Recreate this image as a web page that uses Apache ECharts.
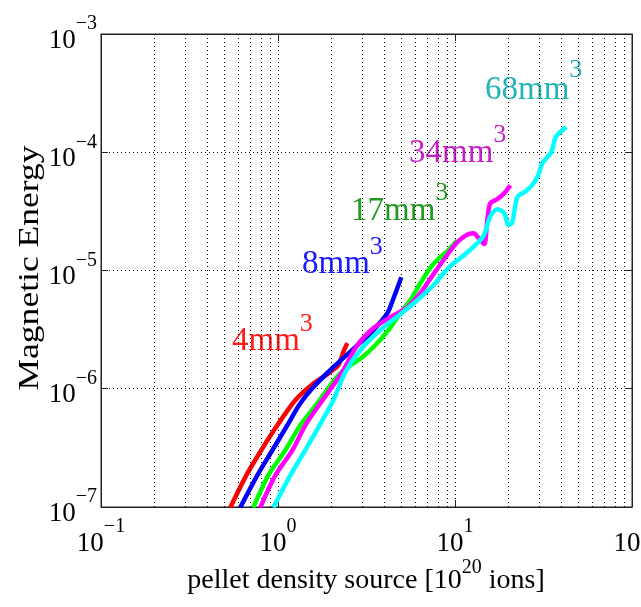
<!DOCTYPE html>
<html><head><meta charset="utf-8">
<script src="https://cdn.jsdelivr.net/npm/echarts@6/dist/echarts.min.js"></script>
<style>html,body{margin:0;padding:0;background:#fff}#c{width:641px;height:607px}</style>
</head><body><div id="c"></div>
<script>
// ---------- data ----------
const xTickExps = [-1, 0, 1, 2];
const yTickExps = [-7, -6, -5, -4, -3];
const minorMultipliers = [2, 3, 4, 5, 6, 7, 8, 9];

const seriesNames = ['4mm', '8mm', '17mm', '34mm', '68mm'];

const x4mm = [0.538, 0.662, 0.804, 0.991, 1.252, 1.542, 1.924, 2.191, 2.338, 2.463];
const y4mm = [0.99e-7, 1.85e-7, 3.02e-7, 4.91e-7, 7.99e-7, 1.07e-6, 1.35e-6, 1.58e-6, 2.04e-6, 2.43e-6];

const x8mm = [0.612, 0.764, 0.929, 1.129, 1.337, 1.582, 2.053, 2.805, 3.454, 4.145, 4.493, 4.973];
const y8mm = [0.99e-7, 1.85e-7, 3.02e-7, 4.91e-7, 7.54e-7, 1.03e-6, 1.52e-6, 2.33e-6, 3.13e-6, 4.35e-6, 5.83e-6, 8.78e-6];

const x17mm = [0.725, 0.882, 1.100, 1.337, 1.667, 1.975, 2.249, 2.562, 2.994, 3.545, 4.201, 4.909, 5.591, 6.368, 7.445, 8.259, 9.071, 10.30];
const y17mm = [0.99e-7, 1.85e-7, 3.02e-7, 4.91e-7, 7.54e-7, 1.07e-6, 1.35e-6, 1.58e-6, 1.85e-6, 2.33e-6, 3.13e-6, 4.35e-6, 5.61e-6, 7.81e-6, 1.11e-5, 1.30e-5, 1.46e-5, 1.80e-5];

const x34mm = [0.794, 0.965, 1.205, 1.426, 1.734, 2.053, 2.338, 2.805, 3.454, 4.310, 5.376, 6.368, 7.158, 8.590, 10.17, 11.58, 12.69, 13.90, 14.64, 15.22, 15.83, 17.34, 18.99, 20.53];
const y34mm = [0.99e-7, 1.85e-7, 3.02e-7, 4.91e-7, 7.54e-7, 1.07e-6, 1.43e-6, 2.33e-6, 3.25e-6, 4.03e-6, 4.89e-6, 6.43e-6, 8.28e-6, 1.22e-5, 1.70e-5, 1.99e-5, 2.07e-5, 1.80e-5, 1.67e-5, 2.66e-5, 3.71e-5, 4.01e-5, 4.51e-5, 5.27e-5];

const x68mm = [0.941, 1.174, 1.426, 1.780, 2.053, 2.400, 2.917, 3.784, 4.909, 6.124, 7.542, 9.286, 11.58, 14.45, 15.83, 17.34, 18.99, 20.00, 21.07, 22.49, 24.63, 26.98, 29.55, 31.13, 35.00, 36.87, 39.86, 42.55];
const y68mm = [0.99e-7, 1.85e-7, 3.02e-7, 5.41e-7, 7.99e-7, 1.38e-6, 2.12e-6, 3.13e-6, 4.27e-6, 5.61e-6, 7.51e-6, 1.07e-5, 1.40e-5, 1.95e-5, 2.88e-5, 3.30e-5, 3.05e-5, 2.42e-5, 2.56e-5, 4.17e-5, 4.60e-5, 5.17e-5, 6.40e-5, 8.09e-5, 1.00e-4, 1.32e-4, 1.51e-4, 1.63e-4];

const xTitle = ['pellet density source [10', '20', ' ions]'];
const yTitle = 'Magnetic Energy';

// ---------- styles / layout ----------
const FONT = "'Liberation Serif','Times New Roman',serif";
const lineColors = ['#ff0000', '#0000ff', '#00ff00', '#ff00ff', '#00ffff'];
const labelColors = ['#ff1a1a', '#1a1aff', '#1f9a1f', '#c81ec8', '#22b4b4'];
// [left x, base centre y, superscript centre y]
const labelPos = [[232, 341, 324], [302, 264, 247], [351, 211, 193], [409, 153, 135], [485, 90, 70]];
const G = {left: 101, top: 34, right: 9, bottom: 100};

const xs = [x4mm, x8mm, x17mm, x34mm, x68mm];
const ys = [y4mm, y8mm, y17mm, y34mm, y68mm];

function minorVals(exps) {
  const out = [];
  for (let i = 0; i < exps.length - 1; i++)
    for (const m of minorMultipliers) out.push(m * Math.pow(10, exps[i]));
  return out;
}
const dotted = {type: [1, 3], color: '#000', width: 1};

const canvas = document.createElement('canvas');
const ctx = canvas.getContext('2d');
function tw(t, size) { ctx.font = size + 'px "Liberation Serif"'; return ctx.measureText(t).width; }

function supLabel(v) {
  const e = Math.round(Math.log10(v));
  return '{b|10}{s|' + (e < 0 ? '\u2212' + (-e) : e) + '}';
}
const rich = {
  b: {fontSize: 27, fontFamily: FONT, color: '#000', verticalAlign: 'bottom'},
  s: {fontSize: 20, fontFamily: FONT, color: '#000', verticalAlign: 'bottom', padding: [0, 0, 20, 0]}
};

const xMin = Math.pow(10, xTickExps[0]), xMax = Math.pow(10, xTickExps[xTickExps.length - 1]);
const yMin = Math.pow(10, yTickExps[0]), yMax = Math.pow(10, yTickExps[yTickExps.length - 1]);

const baseAxis = (extra) => Object.assign({
  type: 'log', logBase: 10,
  axisLine: {show: true, lineStyle: {color: '#222', width: 1}},
  axisTick: {show: true, inside: true, length: 7, lineStyle: {color: '#222'}},
  splitLine: {show: false},
  axisLabel: {show: false}
}, extra);

const series = seriesNames.map((n, i) => ({
  name: n, type: 'line', xAxisIndex: 0, yAxisIndex: 0,
  data: xs[i].map((x, k) => [x, ys[i][k]]),
  showSymbol: false, symbol: 'none', smooth: 0.3,
  lineStyle: {color: lineColors[i], width: 4.5},
  clip: true, z: 3 + i
}));
series.unshift({
  type: 'line', data: [], silent: true, z: 1,
  markLine: {
    silent: true, symbol: ['none', 'none'], animation: false,
    label: {show: false}, lineStyle: dotted, emphasis: {disabled: true},
    data: minorVals(xTickExps).map(v => ({xAxis: v})).concat(minorVals(yTickExps).map(v => ({yAxis: v})))
  }
});

const graphic = [];
seriesNames.forEach((n, i) => {
  const [lx, cy, sy] = labelPos[i];
  const w = tw(n, 33);
  graphic.push({type: 'text', x: lx, y: cy, style: {text: n, font: '33px ' + FONT, fill: labelColors[i], align: 'left', verticalAlign: 'middle'}});
  graphic.push({type: 'text', x: lx + w, y: sy, style: {text: '3', font: '26px ' + FONT, fill: labelColors[i], align: 'left', verticalAlign: 'middle'}});
});
// x title
{
  const w1 = tw(xTitle[0], 28), w2 = tw(xTitle[1], 20), w3 = tw(xTitle[2], 28);
  const start = 366 - (w1 + w2 + w3) / 2;
  graphic.push({type: 'text', x: start, y: 581, style: {text: xTitle[0], font: '28px ' + FONT, fill: '#000', align: 'left', verticalAlign: 'middle'}});
  graphic.push({type: 'text', x: start + w1, y: 568, style: {text: xTitle[1], font: '20px ' + FONT, fill: '#000', align: 'left', verticalAlign: 'middle'}});
  graphic.push({type: 'text', x: start + w1 + w2, y: 581, style: {text: xTitle[2], font: '28px ' + FONT, fill: '#000', align: 'left', verticalAlign: 'middle'}});
}
// y title
{
  const w = tw(yTitle, 29);
  graphic.push({type: 'text', x: 30, y: 268, rotation: Math.PI / 2, scaleX: 245 / w,
    style: {text: yTitle, x: 0, y: 0, font: '29px ' + FONT, fill: '#000', align: 'center', verticalAlign: 'middle'}});
}

const chart = echarts.init(document.getElementById('c'), null, {renderer: 'canvas'});
chart.setOption({
  animation: false,
  backgroundColor: '#fff',
  grid: Object.assign({show: true, borderColor: '#222', borderWidth: 1, backgroundColor: 'transparent', containLabel: false, outerBoundsMode: 'none'}, G),
  xAxis: [
    baseAxis({position: 'bottom', min: xMin, max: xMax,
      splitLine: {show: true, lineStyle: dotted},
      axisLabel: {show: true, formatter: supLabel, rich: rich, margin: 10, showMinLabel: true, showMaxLabel: true, hideOverlap: false}}),
    baseAxis({position: 'top', min: xMin, max: xMax})
  ],
  yAxis: [
    baseAxis({position: 'left', min: yMin, max: yMax,
      splitLine: {show: true, lineStyle: dotted},
      axisLabel: {show: true, formatter: supLabel, rich: rich, margin: 4, showMinLabel: true, showMaxLabel: true, hideOverlap: false}}),
    baseAxis({position: 'right', min: yMin, max: yMax})
  ],
  graphic: graphic,
  series: series
});
</script></body></html>
